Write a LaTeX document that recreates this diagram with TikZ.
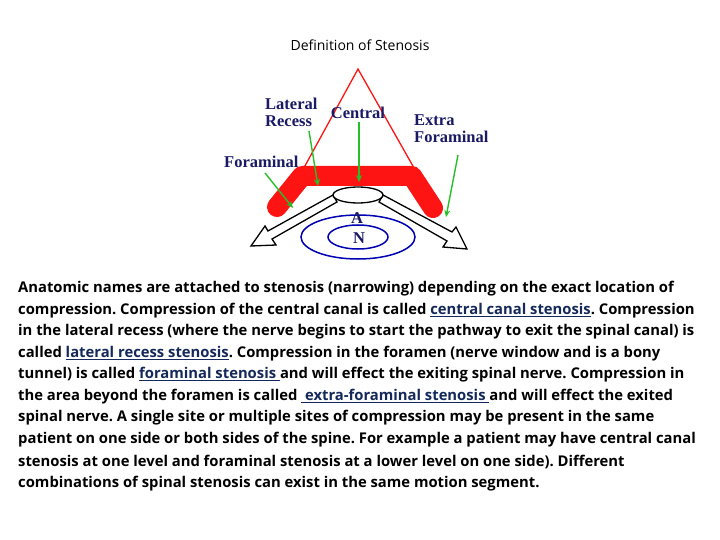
\documentclass[tikz,border=0pt]{standalone}
\usepackage{fontspec}
\setmainfont{Open Sans}
\newfontfamily\lblfont{Liberation Serif}
\usetikzlibrary{arrows.meta,shapes.geometric}
\definecolor{navy}{RGB}{25,25,100}
\definecolor{lnkc}{RGB}{20,40,90}
\definecolor{bandred}{RGB}{255,20,20}
\definecolor{grn}{RGB}{40,190,40}
\newcommand{\lnk}[1]{\textcolor{lnkc}{\underline{#1}}}
\frenchspacing
\tikzset{
  lbl/.style={font=\lblfont\bfseries\fontsize{16.5}{17}\selectfont, text=navy, inner sep=0pt, align=left},
  body/.style={font=\bfseries\fontsize{14.8}{16}\selectfont, anchor=west, inner sep=0pt},
  garrow/.style={draw=grn, line width=1.4pt, -{Stealth[length=7pt,width=6pt]}},
  hollow/.style={draw=black, line width=1.3pt, fill=white}
}
\begin{document}
\begin{tikzpicture}[x=1pt,y=-1pt]
\useasboundingbox (0,0) rectangle (720,540);
\node (title) at (360,45) {\fontsize{14}{15}\selectfont Definition of Stenosis};
% triangle
\draw[bandred, line width=1.3pt] (300,175) -- (358,69) -- (418,175);
% red band
\draw[bandred, line width=20pt, line cap=round, line join=round] (277,207) -- (302,176) -- (412,176) -- (433,208);
% hollow arrows
\draw[hollow] (333,195) -- (268,231) -- (265,226) -- (251,246) -- (276,245) -- (272,239) -- (337,202) -- cycle;
\draw[hollow] (383,195) -- (452,232) -- (456,227) -- (467,249) -- (443,247) -- (447,241) -- (379,202) -- cycle;
\node[hollow, ellipse, minimum width=50pt, minimum height=16pt, inner sep=0pt] (canal) at (358,195) {};
% blue ellipses
\draw[blue!70!black, line width=1.5pt] (358,237) ellipse (57 and 22);
\draw[blue!70!black, line width=1.5pt] (358,237) ellipse (30 and 12);
\node[lbl] (A) at (357,218) {A};
\node[lbl] (N) at (359,238) {N};
% labels
\node[lbl, anchor=west] (lat) at (265,112) {Lateral\\Recess};
\node[lbl] (cen) at (358,113) {Central};
\node[lbl, anchor=west] (ext) at (414,129) {Extra\\Foraminal};
\node[lbl, anchor=west] (for) at (224,162) {Foraminal};
% green arrows
\coordinate (f1) at (265,173); \coordinate (f2) at (293,208);
\coordinate (l1) at (309,131); \coordinate (l2) at (318,186);
\coordinate (c1) at (359,122); \coordinate (c2) at (359,182);
\coordinate (e1) at (458,155); \coordinate (e2) at (446,217);
\draw[garrow] (f1) -- (f2);
\draw[garrow] (l1) -- (l2);
\draw[garrow] (c1) -- (c2);
\draw[garrow] (e1) -- (e2);
% body
\node[body] (t1) at (18,289) {Anatomic names are attached to stenosis (narrowing) depending on the exact location of};
\node[body] (t2) at (18,311) {compression. Compression of the central canal is called \lnk{central canal stenosis}. Compression};
\node[body] (t3) at (18,332) {in the lateral recess (where the nerve begins to start the pathway to exit the spinal canal) is};
\node[body] (t4) at (18,354) {called \lnk{lateral recess stenosis}. Compression in the foramen (nerve window and is a bony};
\node[body] (t5) at (18,375) {tunnel) is called \lnk{foraminal stenosis }and will effect the exiting spinal nerve. Compression in};
\node[body] (t6) at (18,397) {the area beyond the foramen is called \lnk{ extra-foraminal stenosis }and will effect the exited};
\node[body] (t7) at (18,418) {spinal nerve. A single site or multiple sites of compression may be present in the same};
\node[body] (t8) at (18,440) {patient on one side or both sides of the spine. For example a patient may have central canal};
\node[body] (t9) at (18,462) {stenosis at one level and foraminal stenosis at a lower level on one side). Different};
\node[body] (t10) at (18,484) {combinations of spinal stenosis can exist in the same motion segment.};
\end{tikzpicture}
\end{document}
